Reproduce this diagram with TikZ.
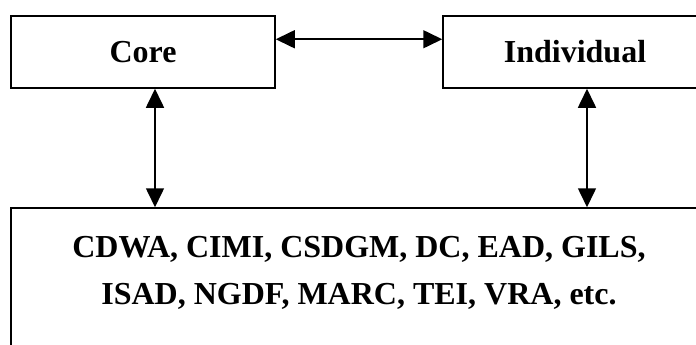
\documentclass[tikz,border=0pt]{standalone}
\usepackage{fontspec}
\setmainfont{Liberation Serif}
\usetikzlibrary{arrows.meta}
\definecolor{ink}{HTML}{000000}

\begin{document}
\begin{tikzpicture}[x=1pt,y=-1pt,
  box/.style={draw=ink,line width=1.5pt,minimum width=264pt,minimum height=72pt,inner sep=0pt,
    font=\bfseries\fontsize{32}{47}\selectfont},
  link/.style={{Triangle[length=19pt,width=18pt]}-{Triangle[length=19pt,width=18pt]},draw=ink,line width=1.6pt}]
\useasboundingbox (0,0) rectangle (696,345);
\clip (0,0) rectangle (696,345);
\node[box] (core) at (143,52) {Core};
\node[box] (indiv) at (575,52) {Individual};
\node[box,minimum width=696pt,minimum height=146pt,align=center,text depth=22pt] (std) at (359,281)
  {CDWA, CIMI, CSDGM, DC, EAD, GILS,\\ISAD, NGDF, MARC, TEI, VRA, etc.};
\draw[link] ([yshift=-24pt]core.north east) -- ([yshift=-24pt]indiv.north west);
\draw[link] ([xshift=12pt]core.south) -- ([xshift=12pt]core.south |- std.north);
\draw[link] ([xshift=12pt]indiv.south) -- ([xshift=12pt]indiv.south |- std.north);
\end{tikzpicture}
\end{document}
